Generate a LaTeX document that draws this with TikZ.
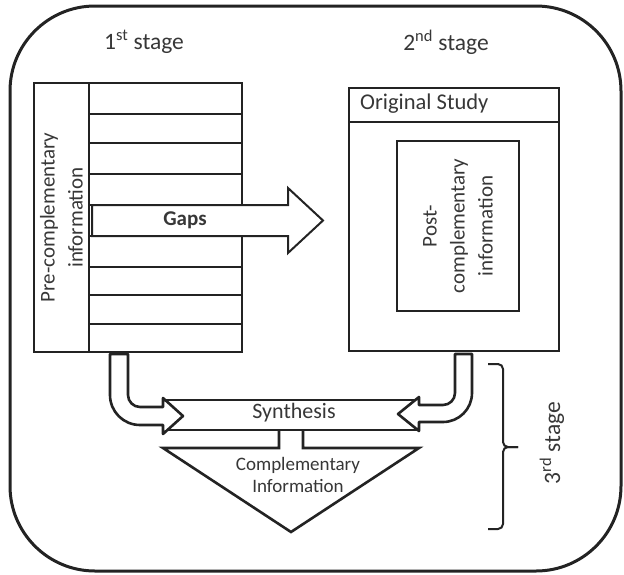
\documentclass[tikz,border=0pt]{standalone}
\usepackage{fontspec}
\setmainfont{Carlito}
\usetikzlibrary{positioning}
\definecolor{ink}{RGB}{35,35,35}
\definecolor{txt}{RGB}{55,55,55}
\tikzset{
    box/.style={draw=ink, line width=1.2pt, inner sep=0pt},
    pipe/.style={draw=ink, fill=white, line width=2.6pt, line join=round},
    lbl/.style={text=txt, inner sep=0pt, align=center},
}
\newcommand{\stagesize}{\fontsize{23.5}{28}\selectfont}
\newcommand{\lblsize}{\fontsize{21}{28}\selectfont}
\newcommand{\smlsize}{\fontsize{19}{22}\selectfont}
\begin{document}
\begin{tikzpicture}[x=1pt, y=-1pt]
    \useasboundingbox (0,0) rectangle (624,574);
    % frame
    \draw[ink, line width=3pt, rounded corners=85pt] (10,6) rectangle (621,571);
    \node[lbl, font=\stagesize] (stage1) at (144,42) {1\textsuperscript{st} stage};
    \node[lbl, font=\stagesize] (stage2) at (446,42) {2\textsuperscript{nd} stage};

    % first stage
    \node[box, minimum width=55pt, minimum height=269pt] (pre) at (61.5,217.5) {};
    \node[box, minimum width=153pt, minimum height=269pt] (rows) at (165.5,217.5) {};
    \foreach \y in {114,143,174,205,236,267,295,324}
        \draw[ink, line width=1.2pt] (89,\y) -- (242,\y);
    \node[lbl, font=\lblsize, rotate=90] (pretxt) at (pre.center) {Pre-complementary\\information};
    \draw[ink, fill=white, line width=2pt] (92,205) -- (288,205) -- (288,188) -- (323,220.5)
        -- (288,253) -- (288,236) -- (92,236) -- cycle;
    \node[lbl, font=\fontsize{21}{24}\selectfont\bfseries] (gaps) at (185,220.5) {Gaps};

    % second stage
    \node[box, minimum width=210pt, minimum height=263pt] (study) at (454,219.5) {};
    \draw[ink, line width=1.2pt] (349,122) -- (559,122);
    \node[lbl, font=\fontsize{22.5}{26}\selectfont, anchor=west] (studytxt) at (360,104) {Original Study};
    \node[box, minimum width=122pt, minimum height=170pt] (post) at (458,226) {};
    \node[lbl, font=\lblsize, rotate=90] (posttxt) at (post.center) {Post-\\complementary\\information};

    % third stage
    \node[pipe, minimum width=256pt, minimum height=30pt] (synth) at (291,415) {};
    \node[lbl, font=\fontsize{22}{26}\selectfont] (synthtxt) at (294,413) {Synthesis};
    \draw[pipe] (128,354) -- (128,395) .. controls (128,401.6) and (133.4,407) .. (140,407)
        -- (163,407) -- (163,398) -- (183,416) -- (163,434) -- (163,425) -- (140,425)
        .. controls (123.4,425) and (110,411.6) .. (110,395) -- (110,354) -- cycle;
    \draw[pipe] (455,354) -- (455,393) .. controls (455,399.6) and (449.6,405) .. (443,405)
        -- (419,405) -- (419,397) -- (398,414) -- (419,431) -- (419,422) -- (443,422)
        .. controls (459,422) and (472,409) .. (472,393) -- (472,354) -- cycle;
    \draw[pipe, line join=miter] (279,431) -- (279,448) -- (163,448) -- (291,532) -- (419,448)
        -- (303,448) -- (303,431);
    \node[lbl, font=\smlsize] (compl) at (298,475) {Complementary\\Information};

    \draw[ink, line width=2pt, rounded corners=5pt] (488,364) -- (503,364) -- (503,447) -- (518,447);
    \draw[ink, line width=2pt, rounded corners=5pt] (488,529) -- (503,529) -- (503,447) -- (518,447);
    \node[lbl, font=\stagesize, rotate=90] (stage3) at (552,443) {3\textsuperscript{rd} stage};
\end{tikzpicture}
\end{document}
